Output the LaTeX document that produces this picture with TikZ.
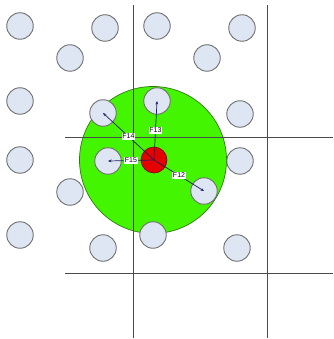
\documentclass[tikz,border=0pt]{standalone}
\usepackage{fontspec}
\setmainfont{Liberation Sans}
\usetikzlibrary{arrows.meta}
\definecolor{dotfill}{HTML}{DFE6F3}
\definecolor{dotline}{HTML}{6E6E6E}
\definecolor{zone}{HTML}{44F500}
\definecolor{zoneline}{HTML}{2E7A10}
\definecolor{gridc}{HTML}{4A4A4A}
\definecolor{force}{HTML}{1C2060}
\tikzset{
  particle/.style={circle, draw=dotline, fill=dotfill, line width=0.9pt, minimum size=26.5pt, inner sep=0pt},
  center/.style={circle, draw=red!50!black, fill=red!90!black, line width=0.6pt, minimum size=26pt, inner sep=0pt},
  gridline/.style={draw=gridc, line width=0.8pt},
  forcearrow/.style={draw=force, line width=0.7pt, -{Stealth[length=3.5pt,width=2.8pt]}},
  flabel/.style={fill=white, inner sep=0.7pt, font=\fontsize{7}{7}\selectfont, text=black}
}
\begin{document}
\begin{tikzpicture}[x=1pt,y=-1pt]
\useasboundingbox (0,0) rectangle (333,339);
% cutoff zone
\node[circle, draw=zoneline, fill=zone, line width=0.7pt, minimum size=147pt, inner sep=0pt] (zone) at (153,160) {};
% grid
\coordinate (v1t) at (133,5); \coordinate (v1b) at (133,338);
\coordinate (v2t) at (267,5); \coordinate (v2b) at (267,338);
\coordinate (h1l) at (65,137); \coordinate (h1r) at (333,137);
\coordinate (h2l) at (65,273); \coordinate (h2r) at (333,273);
\draw[gridline] (v1t) -- (v1b);
\draw[gridline] (v2t) -- (v2b);
\draw[gridline] (h1l) -- (h1r);
\draw[gridline] (h2l) -- (h2r);
% particles
\node[particle] (p1) at (20,26) {};
\node[particle] (p2) at (105,28) {};
\node[particle] (p3) at (70,58) {};
\node[particle] (p4) at (157,26) {};
\node[particle] (p5) at (242,28) {};
\node[particle] (p6) at (207,58) {};
\node[particle] (p7) at (20,101) {};
\node[particle] (p8) at (103,113) {};
\node[particle] (p9) at (157,101) {};
\node[particle] (p10) at (240,114) {};
\node[particle] (p11) at (20,160) {};
\node[particle] (p12) at (108,161) {};
\node[particle] (p13) at (240,161) {};
\node[particle] (p14) at (70,192) {};
\node[particle] (p15) at (204,191) {};
\node[particle] (p16) at (20,235) {};
\node[particle] (p17) at (153,235) {};
\node[particle] (p18) at (103,248) {};
\node[particle] (p19) at (237,248) {};
% central particle
\node[center] (c) at (154,160) {};
% forces
\draw[forcearrow] (c.center) -- node[flabel] (l13) {F13} (p9.center);
\draw[forcearrow] (c.center) -- node[flabel] (l14) {F14} (p8.center);
\draw[forcearrow] (c.center) -- node[flabel] (l15) {F15} (p12.center);
\draw[forcearrow] (c.center) -- node[flabel] (l12) {F12} (p15.center);
\end{tikzpicture}
\end{document}
